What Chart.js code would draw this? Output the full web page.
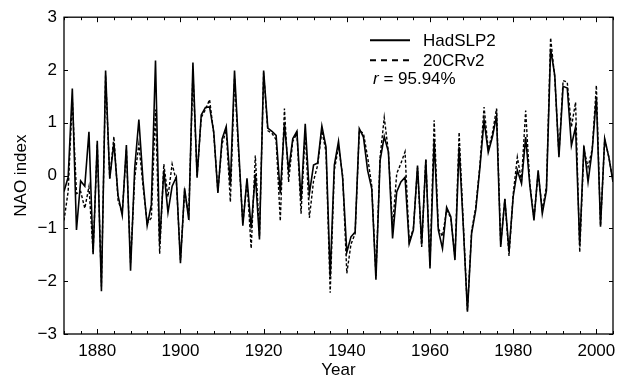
<!DOCTYPE html>
<html>
<head>
<meta charset="utf-8">
<script src="https://cdn.jsdelivr.net/npm/chart.js@4.4.1/dist/chart.umd.min.js"></script>
<style>
html,body{margin:0;padding:0;background:#fff;}
#wrap{width:625px;height:383px;}
</style>
</head>
<body>
<div id="wrap"><canvas id="c" width="625" height="383"></canvas></div>
<script>
const years = [];
for (let y = 1872; y <= 2004; y++) years.push(y);

const hadSLP2 = [
 -0.30,-0.03,1.65,-1.03,-0.10,-0.20,0.83,-1.49,0.66,-2.19,
 1.99,-0.06,0.62,-0.38,-0.75,0.58,-1.80,0.14,1.06,-0.10,
 -0.95,-0.55,2.18,-1.30,0.10,-0.70,-0.20,-0.03,-1.66,-0.24,
 -0.84,2.14,-0.04,1.15,1.29,1.30,0.83,-0.33,0.69,0.93,
 -0.18,1.99,0.50,-0.95,-0.05,-1.00,0.03,-1.21,1.99,0.90,
 0.84,0.76,-0.34,0.98,0.10,0.70,0.84,-0.47,0.98,-0.34,
 0.20,0.24,0.94,0.54,-1.90,0.20,0.65,-0.05,-1.45,-1.16,
 -1.07,0.89,0.73,0.10,-0.25,-1.97,0.29,0.74,0.45,-1.19,
 -0.31,-0.12,-0.03,-1.29,-1.03,0.19,-1.31,0.30,-1.76,0.67,
 -1.03,-1.38,-0.60,-0.78,-1.60,0.54,-0.95,-2.58,-1.10,-0.65,
 0.15,1.05,0.44,0.73,1.13,-1.35,-0.44,-1.44,-0.40,0.10,
 -0.15,0.73,-0.18,-0.85,0.10,-0.72,-0.28,2.40,1.90,0.35,
 1.69,1.66,0.57,0.92,-1.32,0.57,-0.12,0.48,1.49,-0.97,
 0.70,0.35,-0.12
];

const cr20v2 = [
 -0.85,-0.30,1.45,-0.34,-0.30,-0.62,-0.21,-1.45,0.60,-2.10,
 1.90,-0.05,0.74,-0.47,-0.70,0.50,-1.65,-0.05,0.60,-0.20,
 -0.90,-0.80,1.25,-1.48,0.22,-0.40,0.22,-0.10,-1.60,-0.30,
 -0.75,1.95,0.00,1.10,1.25,1.44,0.80,-0.30,0.60,0.85,
 -0.50,1.85,0.40,-0.90,-0.10,-1.38,0.38,-1.15,1.95,0.85,
 0.80,0.68,-0.86,1.27,-0.12,0.65,0.80,-0.72,0.85,-0.80,
 -0.10,0.20,0.85,0.45,-2.22,0.10,0.55,0.00,-1.85,-1.30,
 -1.10,0.85,0.80,0.35,-0.20,-1.90,0.35,1.10,0.45,-0.97,
 0.04,0.23,0.45,-1.25,-1.00,0.15,-1.35,0.32,-1.70,1.05,
 -1.00,-1.15,-0.65,-0.80,-1.55,0.82,-0.90,-2.55,-1.05,-0.60,
 0.20,1.30,0.50,0.80,1.27,-1.30,-0.45,-1.52,-0.35,0.35,
 -0.10,1.23,-0.15,-0.80,0.05,-0.65,-0.20,2.61,1.85,0.40,
 1.80,1.77,0.92,1.39,-1.45,0.50,0.16,0.50,1.71,-0.95,
 0.68,0.35,-0.10
];

const seriesNames = ['HadSLP2', '20CRv2'];
const corrText = ['r', ' = 95.94%'];
const xTitle = 'Year';
const yTitle = 'NAO index';
const xMin = 1872, xMax = 2004, xStep = 4, xLabelEvery = 20;
const yMin = -3, yMax = 3, yStep = 1;

const FONT = 'Liberation Sans, Arial, sans-serif';
const FS = 17;

const framePlugin = {
  id: 'frame',
  afterDatasetsDraw(chart) {
    const {ctx, chartArea: a, scales} = chart;
    ctx.save();
    ctx.strokeStyle = '#000';
    ctx.lineWidth = 1.3;
    ctx.strokeRect(a.left, a.top, a.right - a.left, a.bottom - a.top);
    ctx.lineWidth = 1;
    ctx.beginPath();
    scales.x.ticks.forEach(t => {
      const px = Math.round(scales.x.getPixelForValue(t.value)) + 0.5;
      const len = (t.value % xLabelEvery === 0) ? 5 : 3;
      ctx.moveTo(px, a.bottom); ctx.lineTo(px, a.bottom - len);
      ctx.moveTo(px, a.top); ctx.lineTo(px, a.top + len);
    });
    scales.y.ticks.forEach(t => {
      const py = Math.round(scales.y.getPixelForValue(t.value)) + 0.5;
      ctx.moveTo(a.left, py); ctx.lineTo(a.left + 4, py);
      ctx.moveTo(a.right, py); ctx.lineTo(a.right - 4, py);
    });
    ctx.stroke();

    // legend
    const lx0 = a.left + 306, lx1 = a.left + 346, tx = a.left + 359;
    const rows = [a.top + 23, a.top + 43];
    ctx.fillStyle = '#000';
    ctx.font = FS + 'px ' + FONT;
    ctx.textBaseline = 'middle';
    chart.data.datasets.forEach((ds, i) => {
      ctx.beginPath();
      ctx.lineWidth = 2;
      ctx.setLineDash(i === 0 ? [] : [6, 5]);
      ctx.moveTo(lx0, rows[i]); ctx.lineTo(lx1, rows[i]);
      ctx.stroke();
      ctx.setLineDash([]);
      ctx.fillText(ds.label, tx, rows[i] + 1);
    });
    const ry = a.top + 62;
    ctx.font = 'italic ' + FS + 'px ' + FONT;
    ctx.fillText(corrText[0], lx0 + 3, ry);
    const w = ctx.measureText(corrText[0]).width;
    ctx.font = FS + 'px ' + FONT;
    ctx.fillText(corrText[1], lx0 + 3 + w, ry);
    ctx.restore();
  }
};

const fixAxes = {
  id: 'fixAxes'
};

new Chart(document.getElementById('c'), {
  type: 'line',
  data: {
    datasets: [
      {
        label: seriesNames[0],
        data: years.map((y, i) => ({x: y, y: hadSLP2[i]})),
        borderColor: '#000',
        borderWidth: 1.6,
        pointRadius: 0,
        tension: 0,
        fill: false
      },
      {
        label: seriesNames[1],
        data: years.map((y, i) => ({x: y, y: cr20v2[i]})),
        borderColor: '#000',
        borderWidth: 1.4,
        borderDash: [3, 2],
        pointRadius: 0,
        tension: 0,
        fill: false
      }
    ]
  },
  options: {
    responsive: false,
    animation: false,
    devicePixelRatio: 1,
    layout: {padding: {top: 17, right: 12, left: 0, bottom: 0}},
    plugins: {legend: {display: false}, tooltip: {enabled: false}},
    scales: {
      x: {
        type: 'linear',
        min: xMin, max: xMax,
        grid: {display: false, drawTicks: false},
        border: {display: false},
        ticks: {
          stepSize: xStep,
          autoSkip: false,
          maxRotation: 0,
          padding: 7,
          color: '#000',
          font: {family: FONT, size: FS},
          callback: v => (v % xLabelEvery === 0 ? String(v) : '')
        },
        title: {display: true, text: xTitle, color: '#000', font: {family: FONT, size: FS}, padding: {top: 0, bottom: 2}},
        afterFit: s => { s.height = 383 - 334; }
      },
      y: {
        min: yMin, max: yMax,
        grid: {display: false, drawTicks: false},
        border: {display: false},
        ticks: {
          stepSize: yStep,
          padding: 7,
          color: '#000',
          font: {family: FONT, size: FS},
          callback: v => (v < 0 ? '\u2212' + Math.abs(v) : String(v))
        },
        title: {display: true, text: yTitle, color: '#000', font: {family: FONT, size: FS}, padding: {top: 11, bottom: 0}},
        afterFit: s => { s.width = 64; }
      }
    }
  },
  plugins: [framePlugin]
});
</script>
</body>
</html>
